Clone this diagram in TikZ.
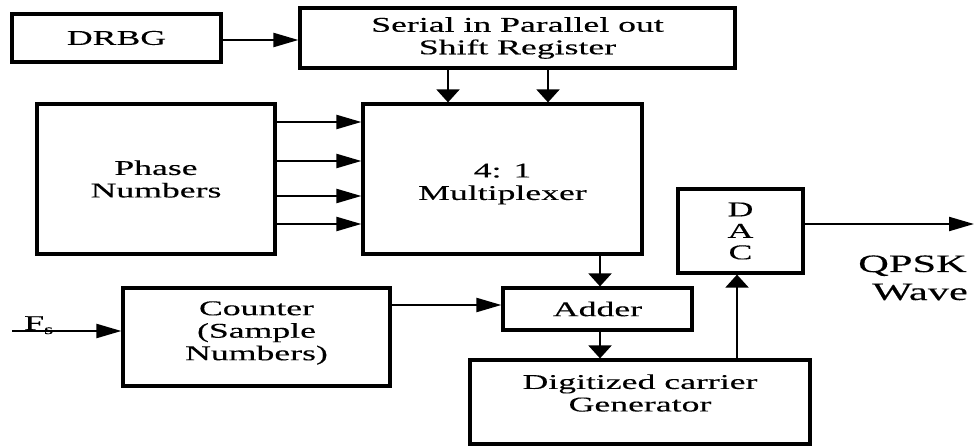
\documentclass[tikz,border=0pt]{standalone}
\usepackage{fontspec}
\setmainfont{Liberation Serif}[FakeStretch=1.7,FakeBold=0.25]
\usetikzlibrary{arrows.meta}
\tikzset{
  blk/.style={draw, line width=3.2pt, inner sep=0pt, align=center,
              font=\fontsize{21}{22.5}\selectfont},
  txt/.style={inner sep=0pt, align=center, font=\fontsize{21}{22.5}\selectfont},
  harr/.style={line width=2.2pt, -{Triangle[length=25pt,width=14pt]}},
  varr/.style={line width=2.2pt, -{Triangle[length=13pt,width=23pt]}},
}
\begin{document}
\begin{tikzpicture}[x=1pt,y=-1pt]
\useasboundingbox (0,0) rectangle (974,446);
\clip (0,0) rectangle (974,446);

% blocks
\node[blk, minimum width=209pt, minimum height=48pt] (drbg) at (116.5,38) {DRBG};
\node[blk, minimum width=435pt, minimum height=60pt] (sipo) at (517.5,38)
  {Serial in Parallel out\\Shift Register};
\node[blk, minimum width=238pt, minimum height=150pt] (phase) at (156,179)
  {Phase\\Numbers};
\node[blk, minimum width=279pt, minimum height=150pt,
      label={[txt,yshift=-5pt]center:{4: 1\\Multiplexer}}] (mux) at (502.5,179) {};
\node[blk, minimum width=267pt, minimum height=98pt,
      label={[txt,yshift=4pt]center:{Counter\\(Sample\\Numbers)}}] (cnt) at (256.5,337) {};
\node[blk, minimum width=189pt, minimum height=42pt] (add) at (597.5,309) {Adder};
\node[blk, minimum width=340pt, minimum height=84pt,
      label={[txt,yshift=9pt]center:{Digitized carrier\\Generator}}] (gen) at (640,402) {};
\node[blk, minimum width=125pt, minimum height=84pt,
      font=\fontsize{21}{21.5}\selectfont] (dac) at (740.5,231) {D\\A\\C};

% free ends
\coordinate (fsin) at (12,331);
\coordinate (qout) at (974,224);

% connectors
\draw[harr] (drbg.east |- 0,40) -- (sipo.west |- 0,40);
\draw[varr] (sipo.south -| 448,0) -- (mux.north -| 448,0);
\draw[varr] (sipo.south -| 548,0) -- (mux.north -| 548,0);
\foreach \yy in {122,161,196,224}
  \draw[harr] (phase.east |- 0,\yy) -- (mux.west |- 0,\yy);
\draw[varr] (mux.south -| 600,0) -- (add.north -| 600,0);
\draw[varr] (add.south -| 600,0) -- (gen.north -| 600,0);
\draw[harr] (cnt.east |- 0,305) -- (add.west |- 0,305);
\draw[harr] (fsin) -- (cnt.west |- fsin);
\draw[varr] (gen.north -| 737,0) -- (dac.south -| 737,0);
\draw[harr] (dac.east |- qout) -- (qout);

% labels
\node[txt, anchor=base west] (fs) at (24,330)
  {F\raisebox{-4pt}{\fontsize{14}{14}\selectfont s}};
\node[inner sep=0pt, anchor=base west, font=\fontsize{25}{25}\selectfont] (qpsk) at (858,272) {QPSK};
\node[inner sep=0pt, anchor=base west, font=\fontsize{25}{25}\selectfont] (wave) at (872,300) {Wave};
\end{tikzpicture}
\end{document}
